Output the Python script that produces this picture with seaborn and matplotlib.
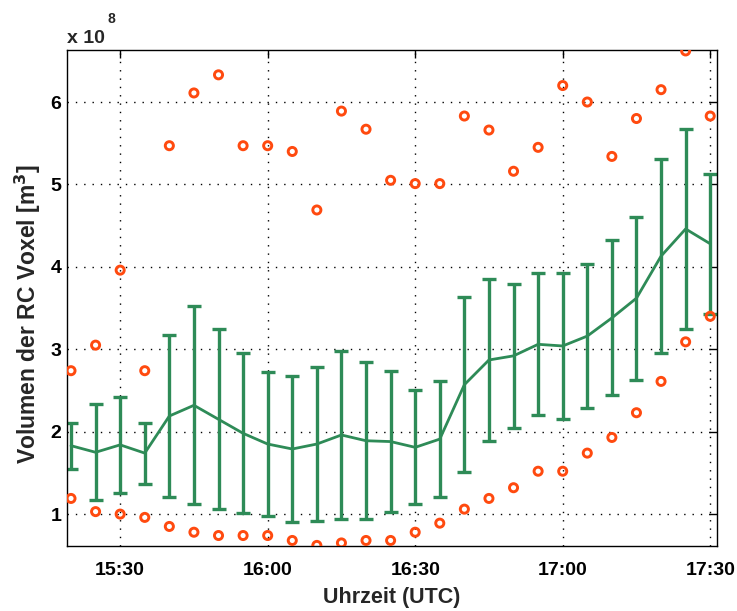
import numpy as np
import pandas as pd
import seaborn as sns
import matplotlib
matplotlib.use("Agg")
import matplotlib.pyplot as plt
from matplotlib.ticker import FuncFormatter, FixedLocator

# time stamps (UTC), every 5 minutes
times = ["15:20", "15:25", "15:30", "15:35", "15:40", "15:45", "15:50", "15:55",
         "16:00", "16:05", "16:10", "16:15", "16:20", "16:25", "16:30", "16:35",
         "16:40", "16:45", "16:50", "16:55", "17:00", "17:05", "17:10", "17:15",
         "17:20", "17:25", "17:30"]

# volume in units of 1e8 m^3
mean_vol = [1.83, 1.75, 1.84, 1.74, 2.19, 2.32, 2.15, 1.98,
            1.85, 1.79, 1.85, 1.96, 1.89, 1.88, 1.81, 1.91,
            2.57, 2.87, 2.92, 3.06, 3.04, 3.16, 3.38, 3.62,
            4.13, 4.46, 4.28]
std_vol = [0.28, 0.58, 0.58, 0.37, 0.98, 1.20, 1.09, 0.97,
           0.87, 0.89, 0.93, 1.02, 0.95, 0.86, 0.69, 0.70,
           1.06, 0.98, 0.87, 0.86, 0.89, 0.87, 0.94, 0.99,
           1.18, 1.21, 0.85]
max_vol = [2.74, 3.05, 3.96, 2.74, 5.47, 6.11, 6.33, 5.47,
           5.47, 5.40, 4.69, 5.89, 5.67, 5.05, 5.01, 5.01,
           5.83, 5.66, 5.16, 5.45, 6.20, 6.00, 5.34, 5.80,
           6.15, 6.62, 5.83]
min_vol = [1.19, 1.03, 1.00, 0.96, 0.85, 0.78, 0.74, 0.74,
           0.74, 0.68, 0.62, 0.65, 0.68, 0.68, 0.78, 0.89,
           1.06, 1.19, 1.32, 1.52, 1.52, 1.74, 1.93, 2.23,
           2.61, 3.09, 3.40]

def to_min(t):
    h, m = t.split(":")
    return int(h) * 60 + int(m)

df = pd.DataFrame({"t": [to_min(t) for t in times],
                   "mean": mean_vol, "std": std_vol,
                   "max": max_vol, "min": min_vol})

sns.set_style("white")
plt.rcParams["font.family"] = ["Liberation Sans", "DejaVu Sans"]
plt.rcParams["font.weight"] = "bold"
plt.rcParams["axes.labelweight"] = "bold"
plt.rcParams["mathtext.default"] = "bf"

green = "#2e8b57"
orange = "#ff4a0f"

fig = plt.figure(figsize=(7.37, 6.11), dpi=100)
ax = fig.add_axes([0.091, 0.106, 0.882, 0.812])

ax.errorbar(df["t"], df["mean"], yerr=df["std"], fmt="none",
            ecolor=green, elinewidth=2.4, capsize=5.2, capthick=2.4, zorder=2)
sns.lineplot(data=df, x="t", y="mean", color=green, linewidth=2.0, ax=ax, zorder=3)
for col in ["max", "min"]:
    sns.scatterplot(data=df, x="t", y=col, ax=ax, marker="o", s=34,
                    facecolor="none", edgecolor=orange, linewidth=2.1, zorder=4)

ax.set_xlim(919.2, 1051.4)
ax.set_ylim(0.61, 6.63)
ax.xaxis.set_major_locator(FixedLocator([930, 960, 990, 1020, 1050]))
ax.xaxis.set_major_formatter(FuncFormatter(lambda v, p: f"{int(v)//60}:{int(v)%60:02d}"))
ax.set_yticks([1, 2, 3, 4, 5, 6])

ax.grid(True, color="black", linestyle=(0, (1, 5)), linewidth=1.0)
ax.tick_params(direction="in", length=6, width=1, top=True, right=True,
               labelsize=14, colors="black")
ax.tick_params(axis="x", pad=11)
ax.tick_params(axis="y", pad=4)
for lbl in ax.get_xticklabels() + ax.get_yticklabels():
    lbl.set_fontweight("bold")
for s in ax.spines.values():
    s.set_color("black")
    s.set_linewidth(1.0)

ax.set_xlabel("Uhrzeit (UTC)", fontsize=15.5, labelpad=6)
ax.set_ylabel("Volumen der RC Voxel [m$^3$]", fontsize=16.5)
ax.yaxis.set_label_coords(-0.037, 0.468)

fig.text(0.091, 0.9296, "x 10", fontsize=14, ha="left", va="baseline")
fig.text(0.146, 0.980, "8", fontsize=10, ha="left", va="top")

fig.savefig("out.png", dpi=100)
